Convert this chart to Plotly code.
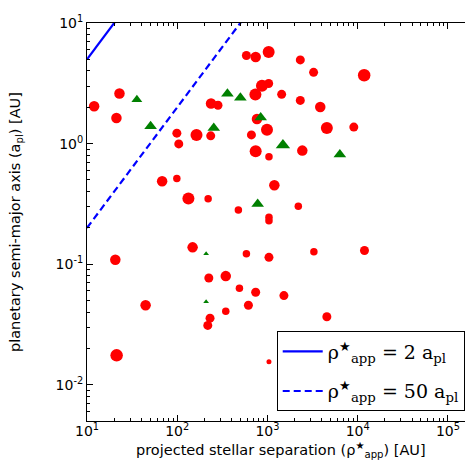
import plotly.graph_objects as go

# Red circles: projected separation [AU], semi-major axis [AU], marker size
red_sep = [12.0, 22.9, 21.2, 584, 740, 1031, 869, 1031, 735, 1436, 237, 283, 765,
           99, 163.5, 235, 664, 988, 104, 740, 1039, 68, 99, 133, 220, 1192, 476,
           1039, 1039, 2312, 3245, 11800, 2312, 3847, 4551, 9055, 2433, 2197,
           148, 20.6, 584, 1039, 224, 345, 489, 740, 1522, 44.6, 615, 345, 231,
           218, 21.3, 1039, 3269, 11890, 4551]
red_a = [2.04, 2.60, 1.63, 5.38, 5.23, 5.74, 3.02, 3.15, 2.55, 2.56, 2.15, 2.08, 1.60,
         1.22, 1.18, 1.16, 1.18, 1.30, 0.994, 0.866, 0.777, 0.487, 0.513, 0.351, 0.349,
         0.451, 0.281, 0.245, 0.229, 4.94, 3.90, 3.69, 2.28, 2.01, 1.35, 1.37, 0.875,
         0.302, 0.138, 0.109, 0.122, 0.114, 0.0768, 0.0797, 0.0631, 0.0585, 0.0549,
         0.0457, 0.0457, 0.0408, 0.0357, 0.0311, 0.01755, 0.01555, 0.127, 0.130, 0.0367]
red_size = [10.5, 10.5, 10.5, 9, 10.5, 12, 12, 9, 12, 9, 10.5, 9, 10.5,
            9, 12, 9, 9, 12, 9, 12, 7.5, 10.5, 7.5, 12, 7.5, 10.5, 7.5,
            7.5, 7.5, 9, 9, 12.5, 9, 10.5, 12, 9, 10.5, 7.5,
            10.5, 10.5, 7.5, 9, 9, 10.5, 7.5, 9, 9, 10.5, 9, 7.5, 9,
            9, 12.5, 5, 7.5, 9, 9]

# Green triangles
green_sep = [35.7, 50.7, 360, 501, 254, 841, 1484, 779, 6340, 209, 209]
green_a = [2.32, 1.39, 2.59, 2.40, 1.35, 1.65, 0.97, 0.315, 0.812, 0.122, 0.0488]
green_size = [9.5, 11, 11, 11, 11, 11, 12.5, 11, 11, 5, 5]

# Reference lines rho = ratio * a_pl
line_ratios = [2, 50]
line_names = ["ρ<sup>★</sup><sub>app</sub> = 2 a<sub>pl</sub>",
              "ρ<sup>★</sup><sub>app</sub> = 50 a<sub>pl</sub>"]
line_dash = ["solid", "7px,4px"]
line_x = [10, 2e5]

# Tick labels
x_exponents = [1, 2, 3, 4, 5]
y_exponents = [-2, -1, 0, 1]
x_range = [1, 5.3]
y_range = [-2.3, 1]

def minor_vals(lo, hi):
    return [m * 10 ** e for e in range(lo, hi) for m in range(2, 10)]

fig = go.Figure()
for i, (ratio, name, dash) in enumerate(zip(line_ratios, line_names, line_dash)):
    fig.add_trace(go.Scatter(x=line_x, y=[v / ratio for v in line_x], mode="lines",
                             line=dict(color="#0000ff", width=2.2, dash=dash),
                             name=name, showlegend=True, legendgroup="g%d" % i))

fig.add_trace(go.Scatter(x=red_sep, y=red_a, mode="markers", showlegend=False,
                         marker=dict(color="#ff0000", size=red_size, symbol="circle",
                                     opacity=1, line=dict(width=0))))
fig.add_trace(go.Scatter(x=green_sep, y=green_a, mode="markers", showlegend=False,
                         marker=dict(color="#008000", size=green_size, symbol="triangle-up",
                                     opacity=1, line=dict(width=0))))

tick_font = dict(family="DejaVu Sans", size=14, color="black")
axis_common = dict(type="log", showgrid=False, zeroline=False, showline=True,
                   linecolor="black", linewidth=1, mirror="allticks", ticks="inside",
                   ticklen=6, tickcolor="black", tickfont=tick_font)
minor_common = dict(type="log", showgrid=False, zeroline=False, showline=False,
                    mirror="allticks", ticks="inside", ticklen=3, tickcolor="black",
                    showticklabels=False, tickmode="array")

fig.update_layout(
    xaxis=dict(range=x_range, tickvals=[10 ** e for e in x_exponents],
               ticktext=["10<sup>%d</sup>" % e for e in x_exponents],
               ticklabelstandoff=-3, **axis_common),
    yaxis=dict(range=y_range, tickvals=[10 ** e for e in y_exponents],
               ticktext=["10<sup>%d</sup>" % e for e in y_exponents], **axis_common),
    xaxis2=dict(range=x_range, overlaying="x", anchor="y", side="bottom",
                tickvals=minor_vals(1, 6), **minor_common),
    yaxis2=dict(range=y_range, overlaying="y", anchor="x", side="left",
                tickvals=minor_vals(-3, 1), **minor_common),
)
# invisible trace to activate the minor-tick overlay axes
fig.add_trace(go.Scatter(x=[line_x[0]], y=[line_x[0]], xaxis="x2", yaxis="y2",
                         mode="markers", marker=dict(opacity=0), showlegend=False,
                         hoverinfo="skip"))

title_font = dict(family="DejaVu Sans", size=14.5, color="black")
fig.add_annotation(text="projected stellar separation (ρ<sup>★</sup><sub>app</sub>) [AU]",
                   xref="paper", yref="paper", x=0.5, y=0, yshift=-29,
                   xanchor="center", yanchor="middle", showarrow=False, font=title_font)
fig.add_annotation(text="planetary semi-major axis (a<sub>pl</sub>) [AU]",
                   xref="paper", yref="paper", x=0, xshift=-71, y=0.5,
                   xanchor="center", yanchor="middle", textangle=-90,
                   showarrow=False, font=title_font)

fig.update_layout(
    width=473, height=462,
    margin=dict(l=79, r=5, t=11, b=49),
    paper_bgcolor="white", plot_bgcolor="white",
    legend=dict(x=0.9735, y=0.024, xanchor="right", yanchor="bottom",
                bgcolor="white", bordercolor="black", borderwidth=1,
                font=dict(family="DejaVu Serif", size=19, color="black"),
                tracegroupgap=12, itemwidth=40),
)

fig.write_html("out.html")
